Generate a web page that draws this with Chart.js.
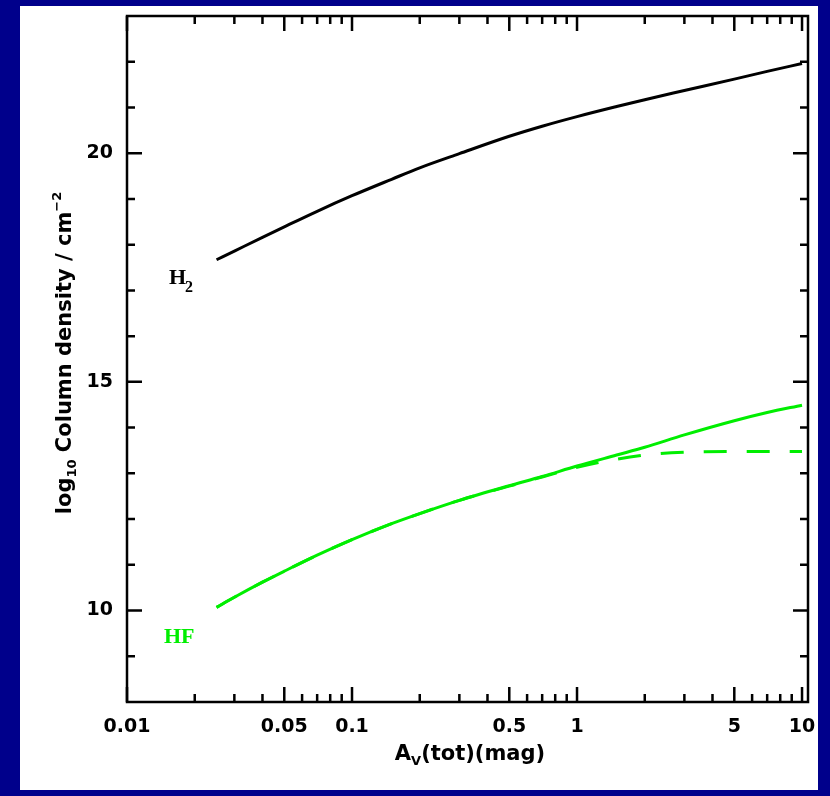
<!DOCTYPE html>
<html lang="en">
<head>
  <meta charset="UTF-8" />
  <title>Column density vs A_V</title>
  <script src="https://cdn.jsdelivr.net/npm/chart.js"></script>
  <style>
    html, body { margin: 0; padding: 0; background: #00008b; }
    #wrap { width: 830px; height: 796px; }
  </style>
</head>
<body>
  <div id="wrap"><canvas id="colChart" width="830" height="796"></canvas></div>

  <script>
    // values
    const avTot    = [0.025, 0.03, 0.04, 0.05, 0.07, 0.1, 0.15, 0.2, 0.3, 0.5, 0.7, 1, 1.5, 2, 3, 5, 7, 10];
    const h2Col    = [17.67, 17.86, 18.16, 18.39, 18.73, 19.07, 19.43, 19.68, 19.99, 20.37, 20.59, 20.80, 21.02, 21.17, 21.37, 21.62, 21.79, 21.96];
    const hfCol    = [10.07, 10.29, 10.62, 10.86, 11.21, 11.55, 11.90, 12.12, 12.41, 12.73, 12.93, 13.16, 13.40, 13.57, 13.84, 14.15, 14.33, 14.49];
    const hfDashed = [10.07, 10.29, 10.62, 10.86, 11.21, 11.55, 11.90, 12.12, 12.41, 12.72, 12.92, 13.13, 13.31, 13.40, 13.46, 13.48, 13.48, 13.48];

    const xTickVals = [0.01, 0.05, 0.1, 0.5, 1, 5, 10];
    const xTickText = ['0.01', '0.05', '0.1', '0.5', '1', '5', '10'];
    const yTickVals = [10, 15, 20];
    const yTickText = ['10', '15', '20'];

    const GREEN = 'rgb(0,238,0)';
    const tickFont = { family: 'DejaVu Sans', size: 19, weight: 'bold' };

    function pts(ys) {
      return avTot.map((x, i) => ({ x: x, y: ys[i] }));
    }

    // minor ticks: 2..9 of each decade (5 is a major one)
    const xMinor = [];
    [0.01, 0.1, 1].forEach(d => {
      for (let k = 2; k <= 9; k++) if (k !== 5) xMinor.push(+(d * k).toFixed(3));
    });
    const yMinor = [];
    for (let v = 9; v <= 22; v++) if (yTickVals.indexOf(v) < 0) yMinor.push(v);

    // draw text made of pieces: [text, size, baselineShift]
    function drawPieces(ctx, pieces, family, cx, cy) {
      let total = 0;
      pieces.forEach(p => {
        ctx.font = 'bold ' + p[1] + 'px "' + family + '"';
        p.w = ctx.measureText(p[0]).width;
        total += p.w;
      });
      let x = cx - total / 2;
      pieces.forEach(p => {
        ctx.font = 'bold ' + p[1] + 'px "' + family + '"';
        ctx.fillText(p[0], x, cy + p[2]);
        x += p.w;
      });
    }

    const panelPlugin = {
      id: 'panel',
      beforeDraw(chart) {
        const ctx = chart.ctx;
        ctx.save();
        ctx.fillStyle = '#00008b';
        ctx.fillRect(0, 0, chart.width, chart.height);
        ctx.fillStyle = '#ffffff';
        ctx.fillRect(20, 6, 798, 784);
        ctx.restore();
      }
    };

    const framePlugin = {
      id: 'frame',
      afterDraw(chart) {
        const ctx = chart.ctx;
        const a = chart.chartArea;
        const xs = chart.scales.x, ys = chart.scales.y;
        ctx.save();
        ctx.strokeStyle = '#000';
        ctx.lineWidth = 2.5;
        ctx.strokeRect(a.left, a.top, a.right - a.left, a.bottom - a.top);

        ctx.beginPath();
        const xt = (v, len) => {
          const px = xs.getPixelForValue(v);
          ctx.moveTo(px, a.bottom); ctx.lineTo(px, a.bottom - len);
          ctx.moveTo(px, a.top); ctx.lineTo(px, a.top + len);
        };
        const yt = (v, len) => {
          const py = ys.getPixelForValue(v);
          ctx.moveTo(a.left, py); ctx.lineTo(a.left + len, py);
          ctx.moveTo(a.right, py); ctx.lineTo(a.right - len, py);
        };
        xTickVals.forEach(v => xt(v, 15));
        xMinor.forEach(v => xt(v, 8));
        yTickVals.forEach(v => yt(v, 15));
        yMinor.forEach(v => yt(v, 8));
        ctx.stroke();

        // axis titles
        ctx.fillStyle = '#000';
        ctx.textBaseline = 'alphabetic';
        ctx.textAlign = 'left';
        drawPieces(ctx, [['A', 21, 0], ['V', 13, 5], ['(tot)(mag)', 21, 0]], 'DejaVu Sans', 470, 760);

        ctx.save();
        ctx.translate(71, 353);
        ctx.rotate(-Math.PI / 2);
        drawPieces(ctx, [['log', 21, 0], ['10', 13, 5], [' Column density / cm', 21, 0], ['\u22122', 13, -10]],
          'DejaVu Sans', 0, 0);
        ctx.restore();

        // curve labels
        ctx.font = 'bold 22px "Liberation Serif"';
        ctx.fillText('H', 169, 284);
        ctx.font = 'bold 16px "Liberation Serif"';
        ctx.fillText('2', 185, 292);
        ctx.fillStyle = GREEN;
        ctx.font = 'bold 22px "Liberation Serif"';
        ctx.fillText('HF', 164, 643);
        ctx.restore();
      }
    };

    new Chart(document.getElementById('colChart').getContext('2d'), {
      type: 'line',
      data: {
        datasets: [
          { label: 'H2', data: pts(h2Col), borderColor: '#000', borderWidth: 3 },
          { label: 'HF dashed', data: pts(hfDashed), borderColor: GREEN, borderWidth: 3, borderDash: [23, 20] },
          { label: 'HF', data: pts(hfCol), borderColor: GREEN, borderWidth: 3 }
        ]
      },
      options: {
        responsive: false,
        animation: false,
        events: [],
        elements: {
          point: { radius: 0 },
          line: { cubicInterpolationMode: 'monotone', fill: false }
        },
        layout: { padding: { top: 16, right: 22, left: 0, bottom: 0 } },
        plugins: { legend: { display: false }, tooltip: { enabled: false } },
        scales: {
          x: {
            type: 'logarithmic',
            min: 0.01,
            max: 10.63,
            grid: { display: false, drawTicks: false },
            border: { display: false },
            afterBuildTicks: s => { s.ticks = xTickVals.map(v => ({ value: v })); },
            afterFit: s => { s.height = 94; s.paddingLeft = 0; s.paddingRight = 0; },
            ticks: {
              autoSkip: false,
              maxRotation: 0,
              padding: 14,
              color: '#000',
              font: tickFont,
              callback: v => xTickText[xTickVals.indexOf(v)]
            }
          },
          y: {
            type: 'linear',
            min: 8,
            max: 23,
            grid: { display: false, drawTicks: false },
            border: { display: false },
            afterBuildTicks: s => { s.ticks = yTickVals.map(v => ({ value: v })); },
            afterFit: s => { s.width = 127; s.paddingTop = 0; s.paddingBottom = 0; },
            ticks: {
              padding: 14,
              color: '#000',
              font: tickFont,
              callback: v => yTickText[yTickVals.indexOf(v)]
            }
          }
        }
      },
      plugins: [panelPlugin, framePlugin]
    });
  </script>
</body>
</html>
